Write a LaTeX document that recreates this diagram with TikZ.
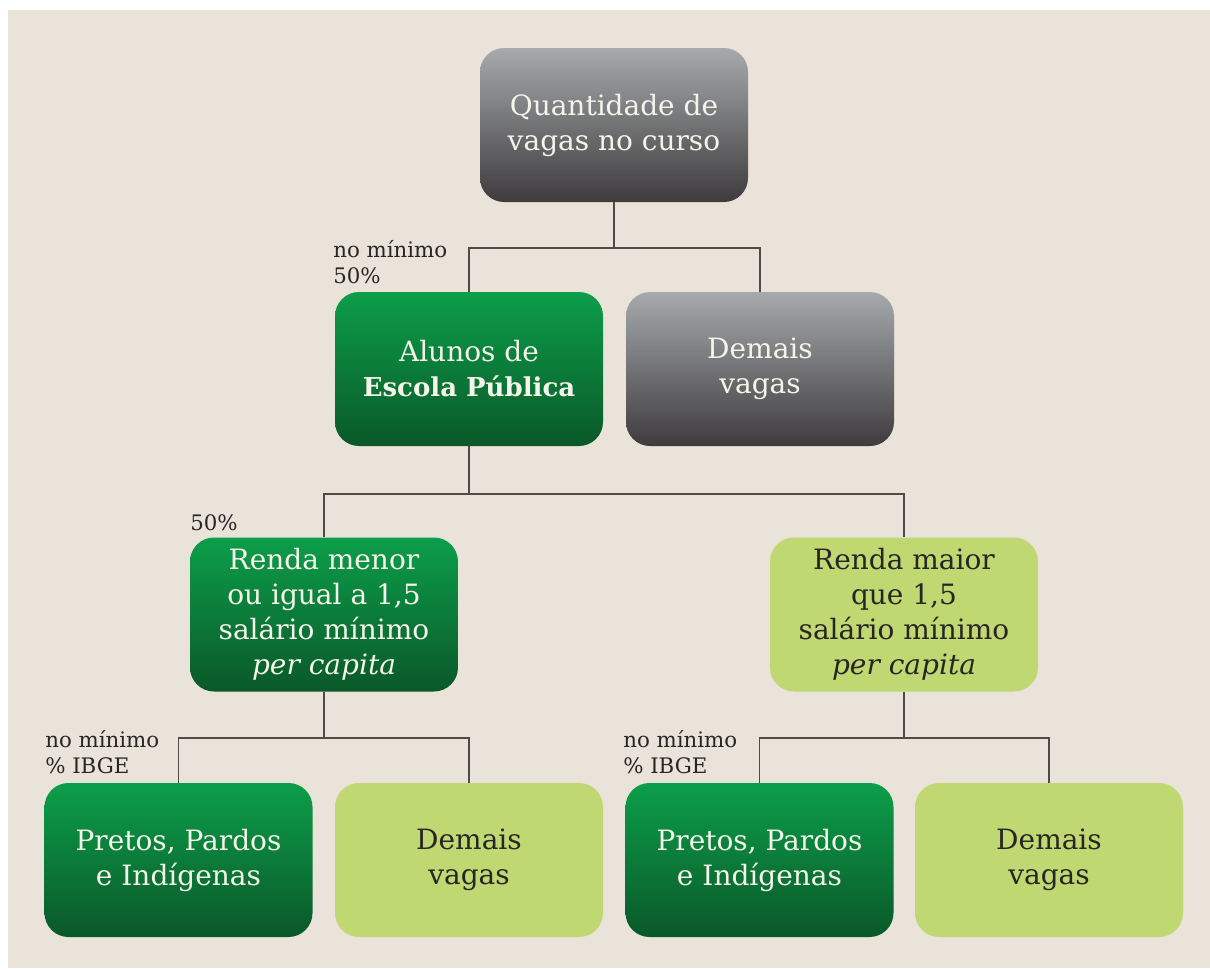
\documentclass[tikz,border=0pt]{standalone}
\usepackage{fontspec}
\setmainfont{DejaVu Serif}
\definecolor{paper}{RGB}{233,227,217}
\definecolor{grayT}{RGB}{166,170,173}
\definecolor{grayB}{RGB}{62,59,61}
\definecolor{greenT}{RGB}{12,158,74}
\definecolor{greenB}{RGB}{10,88,40}
\definecolor{lightG}{RGB}{192,216,114}
\definecolor{lineC}{RGB}{80,74,70}
\definecolor{txtW}{RGB}{245,244,234}
\definecolor{txtD}{RGB}{40,38,36}
\tikzset{
  box/.style={rectangle, rounded corners=18pt, minimum width=201pt, minimum height=115.5pt,
    align=center, inner sep=0pt, font=\fontsize{21}{26.25}\selectfont},
  graybox/.style={box, top color=grayT, bottom color=grayB, text=txtW},
  dgreenbox/.style={box, top color=greenT, bottom color=greenB, text=txtW},
  lgreenbox/.style={box, fill=lightG, text=txtD},
  conn/.style={draw=lineC, line width=1.3pt},
  lbl/.style={align=left, inner sep=0pt, text=txtD, font=\fontsize{16}{19.5}\selectfont, anchor=base west}
}
\begin{document}
\begin{tikzpicture}[x=0.75pt,y=-0.75pt]
\useasboundingbox (0,0) rectangle (1210,968);
\fill[white] (0,0) rectangle (1210,968);
\fill[paper] (8,10) rectangle (1210,968);

% level 0
\node[graybox] (top) at (614,125) {Quantidade de\\vagas no curso};
% level 1
\node[dgreenbox] (alunos) at (469,369) {Alunos de\\{\fontsize{19.5}{26.25}\selectfont\bfseries Escola Pública}};
\node[graybox] (demaisG) at (760,369) {Demais\\vagas};
% level 2
\node[dgreenbox] (menor) at (324,614.5) {Renda menor\\ou igual a 1,5\\salário mínimo\\\textit{per capita}};
\node[lgreenbox] (maior) at (904,614.5) {Renda maior\\que 1,5\\salário mínimo\\\textit{per capita}};
% level 3
\node[dgreenbox] (pretosL) at (178.5,860) {Pretos, Pardos\\e Indígenas};
\node[lgreenbox] (demaisL) at (469,860) {Demais\\vagas};
\node[dgreenbox] (pretosR) at (759.5,860) {Pretos, Pardos\\e Indígenas};
\node[lgreenbox] (demaisR) at (1049,860) {Demais\\vagas};

% connectors
\draw[conn] (top.south) -- ++(0,46) coordinate (j1);
\draw[conn] (alunos.north) |- (j1) -| (demaisG.north);
\draw[conn] (alunos.south) -- ++(0,48) coordinate (j2);
\draw[conn] (menor.north) |- (j2) -| (maior.north);
\draw[conn] (menor.south) -- ++(0,46) coordinate (j3);
\draw[conn] (pretosL.north) |- (j3) -| (demaisL.north);
\draw[conn] (maior.south) -- ++(0,46) coordinate (j4);
\draw[conn] (pretosR.north) |- (j4) -| (demaisR.north);

% labels
\node[lbl] (l1a) at (333,257) {no mínimo};
\node[lbl] (l1b) at (333,283) {50\%};
\node[lbl] (l2) at (190,530) {50\%};
\node[lbl] (l3a) at (45,747) {no mínimo};
\node[lbl] (l3b) at (45,773) {\% IBGE};
\node[lbl] (l4a) at (623,747) {no mínimo};
\node[lbl] (l4b) at (623,773) {\% IBGE};
\end{tikzpicture}
\end{document}
